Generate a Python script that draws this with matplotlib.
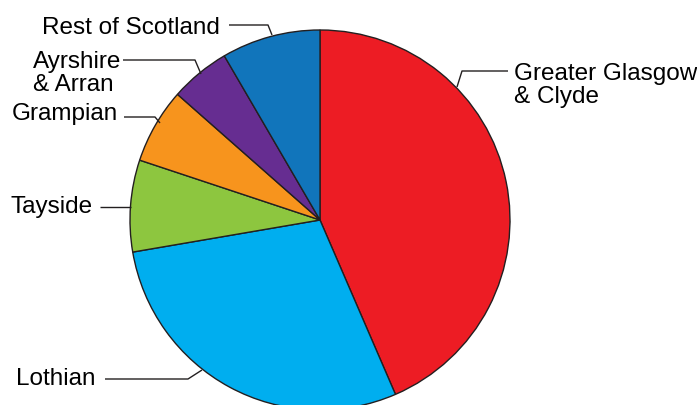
import matplotlib.pyplot as plt

plt.rcParams['font.family'] = ['Liberation Sans', 'DejaVu Sans']

# shares by NHS board (%)
boards = ['Greater Glasgow\n& Clyde', 'Lothian', 'Tayside', 'Grampian', 'Ayrshire\n& Arran', 'Rest of Scotland']
shares = [43.5, 28.8, 7.8, 6.4, 5.1, 8.4]
colors = ['#ED1C24', '#00AEEF', '#8DC63F', '#F7941D', '#662D91', '#1175BB']

W, H = 697, 405
cx, cy, r = 320, 220, 190

# label layout in pixels: baseline of last text line, alignment, leader polyline
labels = [
    ((514, 103), 'left', [(508, 71), (462, 71), (457, 87)]),
    ((96, 385), 'right', [(105, 379), (188, 379), (202, 370)]),
    ((93, 213), 'right', [(100, 207), (131, 207)]),
    ((118, 120), 'right', [(124, 117), (155, 117), (160, 123)]),
    ((121, 91), 'right', [(123, 60), (195, 60), (201, 74)]),
    ((220, 34), 'right', [(229, 25), (268, 25), (272, 35)]),
]

fig = plt.figure(figsize=(W / 100, H / 100), dpi=100)
ax = fig.add_axes([0, 0, 1, 1])

ax.pie(shares, colors=colors, center=(cx, cy), radius=r, startangle=-90,
       counterclock=True, wedgeprops=dict(edgecolor='#231f20', linewidth=1.0))
ax.set_xlim(0, W)
ax.set_ylim(H, 0)
ax.set_aspect('equal')
ax.axis('off')

for name, (pos, ha, pts) in zip(boards, labels):
    ax.text(pos[0], pos[1], name, ha=ha, va='baseline', fontsize=17.5,
            color='#000000', multialignment='left', linespacing=1.08)
    xs = [p[0] for p in pts]
    ys = [p[1] for p in pts]
    ax.plot(xs, ys, color='#231f20', linewidth=1.0, solid_capstyle='butt')

plt.savefig('out.png', dpi=100)
